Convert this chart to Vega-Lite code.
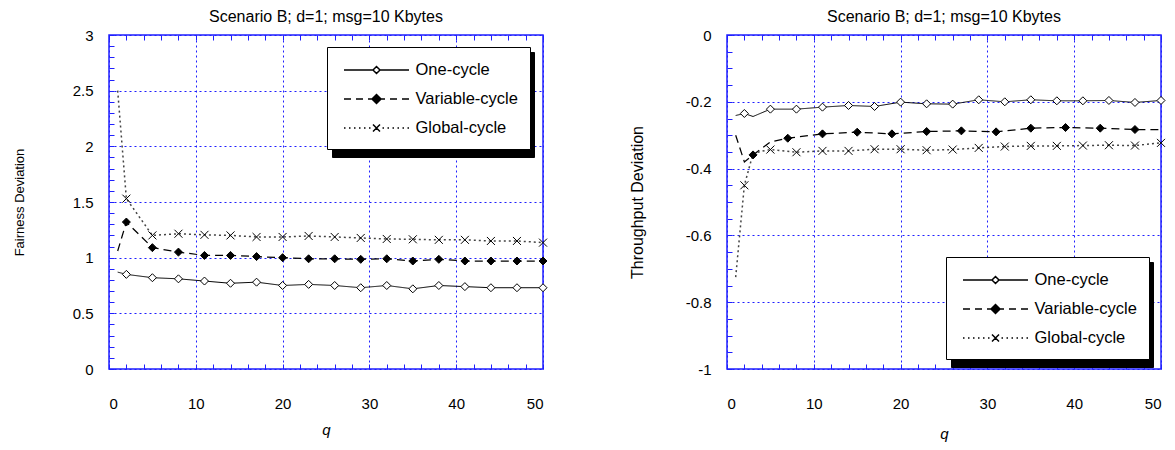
{
  "$schema": "https://vega.github.io/schema/vega-lite/v6.json",
  "background": "white",
  "padding": {"left": 12, "top": 8, "right": 5, "bottom": 5},
  "config": {
    "font": "Liberation Sans",
    "view": {"stroke": "#1f1fff", "strokeWidth": 1.5},
    "axis": {"labelFont": "Liberation Sans", "titleFont": "Liberation Sans", "labelColor": "black", "titleColor": "black", "titleFontWeight": "normal"},
    "title": {"font": "Liberation Sans", "fontWeight": "normal", "fontSize": 16, "color": "black"},
    "legend": {"labelFont": "Liberation Sans"}
  },
  "datasets": {
    "fair": [
      {"q": 1, "v": 0.87, "s": "One-cycle"}, {"q": 2, "v": 0.85, "s": "One-cycle"}, {"q": 5, "v": 0.82, "s": "One-cycle"}, {"q": 8, "v": 0.81, "s": "One-cycle"}, {"q": 11, "v": 0.79, "s": "One-cycle"}, {"q": 14, "v": 0.77, "s": "One-cycle"}, {"q": 17, "v": 0.78, "s": "One-cycle"}, {"q": 20, "v": 0.75, "s": "One-cycle"}, {"q": 23, "v": 0.76, "s": "One-cycle"}, {"q": 26, "v": 0.75, "s": "One-cycle"}, {"q": 29, "v": 0.73, "s": "One-cycle"}, {"q": 32, "v": 0.75, "s": "One-cycle"}, {"q": 35, "v": 0.72, "s": "One-cycle"}, {"q": 38, "v": 0.75, "s": "One-cycle"}, {"q": 41, "v": 0.74, "s": "One-cycle"}, {"q": 44, "v": 0.73, "s": "One-cycle"}, {"q": 47, "v": 0.73, "s": "One-cycle"}, {"q": 50, "v": 0.73, "s": "One-cycle"},
      {"q": 1, "v": 1.06, "s": "Variable-cycle"}, {"q": 2, "v": 1.32, "s": "Variable-cycle"}, {"q": 5, "v": 1.09, "s": "Variable-cycle"}, {"q": 8, "v": 1.05, "s": "Variable-cycle"}, {"q": 11, "v": 1.02, "s": "Variable-cycle"}, {"q": 14, "v": 1.02, "s": "Variable-cycle"}, {"q": 17, "v": 1.01, "s": "Variable-cycle"}, {"q": 20, "v": 1.0, "s": "Variable-cycle"}, {"q": 23, "v": 0.99, "s": "Variable-cycle"}, {"q": 26, "v": 0.99, "s": "Variable-cycle"}, {"q": 29, "v": 0.985, "s": "Variable-cycle"}, {"q": 32, "v": 0.99, "s": "Variable-cycle"}, {"q": 35, "v": 0.97, "s": "Variable-cycle"}, {"q": 38, "v": 0.985, "s": "Variable-cycle"}, {"q": 41, "v": 0.97, "s": "Variable-cycle"}, {"q": 44, "v": 0.97, "s": "Variable-cycle"}, {"q": 47, "v": 0.97, "s": "Variable-cycle"}, {"q": 50, "v": 0.97, "s": "Variable-cycle"},
      {"q": 1, "v": 2.5, "s": "Global-cycle"}, {"q": 2, "v": 1.53, "s": "Global-cycle"}, {"q": 5, "v": 1.2, "s": "Global-cycle"}, {"q": 8, "v": 1.215, "s": "Global-cycle"}, {"q": 11, "v": 1.205, "s": "Global-cycle"}, {"q": 14, "v": 1.2, "s": "Global-cycle"}, {"q": 17, "v": 1.186, "s": "Global-cycle"}, {"q": 20, "v": 1.186, "s": "Global-cycle"}, {"q": 23, "v": 1.195, "s": "Global-cycle"}, {"q": 26, "v": 1.186, "s": "Global-cycle"}, {"q": 29, "v": 1.177, "s": "Global-cycle"}, {"q": 32, "v": 1.168, "s": "Global-cycle"}, {"q": 35, "v": 1.165, "s": "Global-cycle"}, {"q": 38, "v": 1.16, "s": "Global-cycle"}, {"q": 41, "v": 1.16, "s": "Global-cycle"}, {"q": 44, "v": 1.15, "s": "Global-cycle"}, {"q": 47, "v": 1.15, "s": "Global-cycle"}, {"q": 50, "v": 1.135, "s": "Global-cycle"}
    ],
    "thr": [
      {"q": 1, "v": -0.241, "s": "One-cycle"}, {"q": 2, "v": -0.235, "s": "One-cycle"}, {"q": 3, "v": -0.244, "s": "One-cycle"}, {"q": 5, "v": -0.222, "s": "One-cycle"}, {"q": 8, "v": -0.222, "s": "One-cycle"}, {"q": 11, "v": -0.216, "s": "One-cycle"}, {"q": 14, "v": -0.211, "s": "One-cycle"}, {"q": 17, "v": -0.214, "s": "One-cycle"}, {"q": 20, "v": -0.201, "s": "One-cycle"}, {"q": 23, "v": -0.206, "s": "One-cycle"}, {"q": 26, "v": -0.207, "s": "One-cycle"}, {"q": 29, "v": -0.194, "s": "One-cycle"}, {"q": 32, "v": -0.2, "s": "One-cycle"}, {"q": 35, "v": -0.194, "s": "One-cycle"}, {"q": 38, "v": -0.197, "s": "One-cycle"}, {"q": 41, "v": -0.197, "s": "One-cycle"}, {"q": 44, "v": -0.196, "s": "One-cycle"}, {"q": 47, "v": -0.202, "s": "One-cycle"}, {"q": 50, "v": -0.196, "s": "One-cycle"},
      {"q": 1, "v": -0.3, "s": "Variable-cycle"}, {"q": 2, "v": -0.38, "s": "Variable-cycle"}, {"q": 3, "v": -0.359, "s": "Variable-cycle"}, {"q": 5, "v": -0.32, "s": "Variable-cycle"}, {"q": 7, "v": -0.309, "s": "Variable-cycle"}, {"q": 11, "v": -0.296, "s": "Variable-cycle"}, {"q": 15, "v": -0.291, "s": "Variable-cycle"}, {"q": 19, "v": -0.296, "s": "Variable-cycle"}, {"q": 23, "v": -0.289, "s": "Variable-cycle"}, {"q": 27, "v": -0.287, "s": "Variable-cycle"}, {"q": 31, "v": -0.29, "s": "Variable-cycle"}, {"q": 35, "v": -0.279, "s": "Variable-cycle"}, {"q": 39, "v": -0.277, "s": "Variable-cycle"}, {"q": 43, "v": -0.279, "s": "Variable-cycle"}, {"q": 47, "v": -0.283, "s": "Variable-cycle"}, {"q": 50, "v": -0.283, "s": "Variable-cycle"},
      {"q": 1, "v": -0.725, "s": "Global-cycle"}, {"q": 2, "v": -0.45, "s": "Global-cycle"}, {"q": 3, "v": -0.355, "s": "Global-cycle"}, {"q": 4, "v": -0.348, "s": "Global-cycle"}, {"q": 5, "v": -0.343, "s": "Global-cycle"}, {"q": 8, "v": -0.351, "s": "Global-cycle"}, {"q": 11, "v": -0.347, "s": "Global-cycle"}, {"q": 14, "v": -0.347, "s": "Global-cycle"}, {"q": 17, "v": -0.342, "s": "Global-cycle"}, {"q": 20, "v": -0.342, "s": "Global-cycle"}, {"q": 23, "v": -0.345, "s": "Global-cycle"}, {"q": 26, "v": -0.343, "s": "Global-cycle"}, {"q": 29, "v": -0.338, "s": "Global-cycle"}, {"q": 32, "v": -0.334, "s": "Global-cycle"}, {"q": 35, "v": -0.332, "s": "Global-cycle"}, {"q": 38, "v": -0.332, "s": "Global-cycle"}, {"q": 41, "v": -0.331, "s": "Global-cycle"}, {"q": 44, "v": -0.33, "s": "Global-cycle"}, {"q": 47, "v": -0.331, "s": "Global-cycle"}, {"q": 50, "v": -0.323, "s": "Global-cycle"}
    ]
  },
  "spacing": 78,
  "resolve": {
    "scale": {"x": "independent", "y": "independent", "shape": "independent", "fill": "independent", "color": "independent", "stroke": "independent", "strokeDash": "independent", "strokeWidth": "independent"},
    "legend": {"shape": "independent", "fill": "independent", "color": "independent"}
  },
  "hconcat": [
    {
      "width": 434, "height": 334,
      "title": {"text": "Scenario B; d=1; msg=10 Kbytes", "offset": 3},
      "data": {"name": "fair"},
      "layer": [
        {
          "mark": {"type": "line", "interpolate": "linear"},
          "encoding": {
            "x": {"field": "q", "type": "quantitative", "scale": {"domain": [0, 50], "nice": false},
              "axis": {"values": [0, 10, 20, 30, 40, 50], "grid": true, "gridColor": "#1f1fff", "gridDash": [2, 3], "gridWidth": 1, "ticks": false, "domain": false, "labelPadding": 27, "labelFontSize": 15, "title": "q", "titleFontStyle": "italic", "titleFontSize": 15, "titlePadding": 11}},
            "y": {"field": "v", "type": "quantitative", "scale": {"domain": [0, 3], "nice": false},
              "axis": {"values": [0, 0.5, 1, 1.5, 2, 2.5, 3], "labelExpr": "toString(round(datum.value*10)/10)", "grid": true, "gridColor": "#1f1fff", "gridDash": [2, 3], "gridWidth": 1, "ticks": false, "domain": false, "labelPadding": 16, "labelFontSize": 15, "title": "Fairness Deviation", "titleFontSize": 13, "titlePadding": 46}},
            "strokeDash": {"field": "s", "type": "nominal", "scale": {"domain": ["One-cycle", "Variable-cycle", "Global-cycle"], "range": [[1, 0], [8, 5], [2, 3]]}, "legend": null},
            "strokeWidth": {"field": "s", "type": "nominal", "scale": {"domain": ["One-cycle", "Variable-cycle", "Global-cycle"], "range": [1, 1.5, 1]}, "legend": null},
            "stroke": {"field": "s", "type": "nominal", "scale": {"domain": ["One-cycle", "Variable-cycle", "Global-cycle"], "range": ["black", "black", "#444444"]}, "legend": null}
          }
        },
        {
          "transform": [{"filter": "(datum.q-2)%3==0"}],
          "mark": {"type": "point", "stroke": "black", "strokeWidth": 1, "size": 64, "opacity": 1},
          "encoding": {
            "x": {"field": "q", "type": "quantitative", "scale": {"domain": [0, 50], "nice": false},
              "axis": {"orient": "bottom", "values": [0,2,4,6,8,10,12,14,16,18,20,22,24,26,28,30,32,34,36,38,40,42,44,46,48,50], "labels": false, "grid": false, "domain": false, "ticks": true, "tickSize": -5, "tickColor": "#1f1fff", "title": null}},
            "y": {"field": "v", "type": "quantitative", "scale": {"domain": [0, 3], "nice": false},
              "axis": {"orient": "left", "values": [0,0.1,0.2,0.3,0.4,0.5,0.6,0.7,0.8,0.9,1,1.1,1.2,1.3,1.4,1.5,1.6,1.7,1.8,1.9,2,2.1,2.2,2.3,2.4,2.5,2.6,2.7,2.8,2.9,3], "labels": false, "grid": false, "domain": false, "ticks": true, "tickSize": -5, "tickColor": "#1f1fff", "title": null}},
            "shape": {"field": "s", "type": "nominal", "scale": {"domain": ["One-cycle", "Variable-cycle", "Global-cycle"], "range": ["diamond", "diamond", "M-1,-1L1,1M-1,1L1,-1"]}, "legend": null},
            "fill": {"field": "s", "type": "nominal", "scale": {"domain": ["One-cycle", "Variable-cycle", "Global-cycle"], "range": ["white", "black", "transparent"]}, "legend": null}
          }
        },
        {
          "data": {"values": []},
          "mark": {"type": "point", "opacity": 1},
          "encoding": {
            "x": {"field": "q", "type": "quantitative", "scale": {"domain": [0, 50], "nice": false},
              "axis": {"orient": "top", "values": [0,2,4,6,8,10,12,14,16,18,20,22,24,26,28,30,32,34,36,38,40,42,44,46,48,50], "labels": false, "grid": false, "domain": false, "ticks": true, "tickSize": -5, "tickColor": "#1f1fff", "title": null}}
          }
        },
        {
          "data": {"values": []},
          "mark": {"type": "point", "opacity": 1},
          "encoding": {
            "color": {"field": "s", "type": "nominal", "scale": {"domain": ["Global-cycle", "One-cycle", "Variable-cycle"], "range": ["black", "black", "black"]},
              "legend": {"orient": "none", "legendX": 223, "legendY": 17, "title": null, "padding": 12, "strokeColor": "black", "fillColor": "black", "labelFontSize": 16.5, "labelExpr": "''", "symbolSize": 400, "symbolType": "M-3.25,-0.63H13.7V0.63H-3.25Z", "symbolOffset": 26.5, "labelOffset": 28, "rowPadding": 9,
                "encode": {"legend": {"update": {"strokeWidth": {"value": 2.5}}}, "symbols": {"update": {"stroke": {"value": "black"}, "fill": {"value": "black"}, "strokeWidth": {"value": 1}}}}}}
          }
        },
        {
          "data": {"values": []},
          "mark": {"type": "point", "opacity": 1, "stroke": "black"},
          "encoding": {
            "shape": {"field": "s", "type": "nominal", "scale": {"domain": ["One-cycle", "Variable-cycle", "Global-cycle"], "range": [
              "M-3.25,0H-0.35M0.35,0H3.25M-0.35,0L0,-0.35L0.35,0L0,0.35Z",
              "M-3.25,0H-2.55M-2.05,0H-1.35M-0.85,0H-0.45M0.45,0H0.85M1.35,0H2.05M2.55,0H3.25M-0.45,0L0,-0.45L0.45,0L0,0.45Z",
              "M-3.25,0h0.15M-2.75,0h0.15M-2.25,0h0.15M-1.75,0h0.15M-1.25,0h0.15M-0.75,0h0.15M0.6,0h0.15M1.1,0h0.15M1.6,0h0.15M2.1,0h0.15M2.6,0h0.15M3.1,0h0.15M-0.35,-0.35L0.35,0.35M-0.35,0.35L0.35,-0.35"]},
              "legend": {"orient": "none", "legendX": 218, "legendY": 12, "title": null, "padding": 12, "strokeColor": "black", "fillColor": "white", "labelFontSize": 16.5, "labelColor": "black", "symbolSize": 400, "symbolOffset": 26.5, "labelOffset": 28, "rowPadding": 9,
                "encode": {"legend": {"update": {"strokeWidth": {"value": 2.5}}}, "symbols": {"update": {"stroke": {"value": "black"}, "strokeWidth": {"value": 1.3}, "opacity": {"value": 1}}}}}},
            "fill": {"field": "s", "type": "nominal", "scale": {"domain": ["One-cycle", "Variable-cycle", "Global-cycle"], "range": ["white", "black", "white"]}}
          }
        }
      ],
      "resolve": {"scale": {"shape": "independent", "fill": "independent"}, "axis": {"x": "independent", "y": "independent"}}
    },
    {
      "width": 434, "height": 334,
      "title": {"text": "Scenario B; d=1; msg=10 Kbytes", "offset": 3},
      "data": {"name": "thr"},
      "layer": [
        {
          "mark": {"type": "line", "interpolate": "linear"},
          "encoding": {
            "x": {"field": "q", "type": "quantitative", "scale": {"domain": [0, 50], "nice": false},
              "axis": {"values": [0, 10, 20, 30, 40, 50], "grid": true, "gridColor": "#1f1fff", "gridDash": [2, 3], "gridWidth": 1, "ticks": false, "domain": false, "labelPadding": 27, "labelFontSize": 15, "title": "q", "titleFontStyle": "italic", "titleFontSize": 15, "titlePadding": 15}},
            "y": {"field": "v", "type": "quantitative", "scale": {"domain": [-1, 0], "nice": false},
              "axis": {"values": [-1, -0.8, -0.6, -0.4, -0.2, 0], "labelExpr": "toString(round(datum.value*10)/10)", "grid": true, "gridColor": "#1f1fff", "gridDash": [2, 3], "gridWidth": 1, "ticks": false, "domain": false, "labelPadding": 16, "labelFontSize": 15, "title": "Throughput Deviation", "titleFontSize": 16, "titlePadding": 40}},
            "strokeDash": {"field": "s", "type": "nominal", "scale": {"domain": ["One-cycle", "Variable-cycle", "Global-cycle"], "range": [[1, 0], [8, 5], [2, 3]]}, "legend": null},
            "strokeWidth": {"field": "s", "type": "nominal", "scale": {"domain": ["One-cycle", "Variable-cycle", "Global-cycle"], "range": [1, 1.5, 1]}, "legend": null},
            "stroke": {"field": "s", "type": "nominal", "scale": {"domain": ["One-cycle", "Variable-cycle", "Global-cycle"], "range": ["black", "black", "#444444"]}, "legend": null}
          }
        },
        {
          "transform": [{"filter": "datum.s=='Variable-cycle' ? ((datum.q-3)%4==0 && datum.q<=47) : ((datum.q-2)%3==0)"}],
          "mark": {"type": "point", "stroke": "black", "strokeWidth": 1, "size": 64, "opacity": 1},
          "encoding": {
            "x": {"field": "q", "type": "quantitative", "scale": {"domain": [0, 50], "nice": false},
              "axis": {"orient": "bottom", "values": [0,2,4,6,8,10,12,14,16,18,20,22,24,26,28,30,32,34,36,38,40,42,44,46,48,50], "labels": false, "grid": false, "domain": false, "ticks": true, "tickSize": -5, "tickColor": "#1f1fff", "title": null}},
            "y": {"field": "v", "type": "quantitative", "scale": {"domain": [-1, 0], "nice": false},
              "axis": {"orient": "left", "values": [-1,-0.95,-0.9,-0.85,-0.8,-0.75,-0.7,-0.65,-0.6,-0.55,-0.5,-0.45,-0.4,-0.35,-0.3,-0.25,-0.2,-0.15,-0.1,-0.05,0], "labels": false, "grid": false, "domain": false, "ticks": true, "tickSize": -5, "tickColor": "#1f1fff", "title": null}},
            "shape": {"field": "s", "type": "nominal", "scale": {"domain": ["One-cycle", "Variable-cycle", "Global-cycle"], "range": ["diamond", "diamond", "M-1,-1L1,1M-1,1L1,-1"]}, "legend": null},
            "fill": {"field": "s", "type": "nominal", "scale": {"domain": ["One-cycle", "Variable-cycle", "Global-cycle"], "range": ["white", "black", "transparent"]}, "legend": null}
          }
        },
        {
          "data": {"values": []},
          "mark": {"type": "point", "opacity": 1},
          "encoding": {
            "x": {"field": "q", "type": "quantitative", "scale": {"domain": [0, 50], "nice": false},
              "axis": {"orient": "top", "values": [0,2,4,6,8,10,12,14,16,18,20,22,24,26,28,30,32,34,36,38,40,42,44,46,48,50], "labels": false, "grid": false, "domain": false, "ticks": true, "tickSize": -5, "tickColor": "#1f1fff", "title": null}}
          }
        },
        {
          "data": {"values": []},
          "mark": {"type": "point", "opacity": 1},
          "encoding": {
            "color": {"field": "s", "type": "nominal", "scale": {"domain": ["Global-cycle", "One-cycle", "Variable-cycle"], "range": ["black", "black", "black"]},
              "legend": {"orient": "none", "legendX": 224, "legendY": 227, "title": null, "padding": 12, "strokeColor": "black", "fillColor": "black", "labelFontSize": 16.5, "labelExpr": "''", "symbolSize": 400, "symbolType": "M-3.25,-0.63H13.7V0.63H-3.25Z", "symbolOffset": 26.5, "labelOffset": 28, "rowPadding": 9,
                "encode": {"legend": {"update": {"strokeWidth": {"value": 2.5}}}, "symbols": {"update": {"stroke": {"value": "black"}, "fill": {"value": "black"}, "strokeWidth": {"value": 1}}}}}}
          }
        },
        {
          "data": {"values": []},
          "mark": {"type": "point", "opacity": 1, "stroke": "black"},
          "encoding": {
            "shape": {"field": "s", "type": "nominal", "scale": {"domain": ["One-cycle", "Variable-cycle", "Global-cycle"], "range": [
              "M-3.25,0H-0.35M0.35,0H3.25M-0.35,0L0,-0.35L0.35,0L0,0.35Z",
              "M-3.25,0H-2.55M-2.05,0H-1.35M-0.85,0H-0.45M0.45,0H0.85M1.35,0H2.05M2.55,0H3.25M-0.45,0L0,-0.45L0.45,0L0,0.45Z",
              "M-3.25,0h0.15M-2.75,0h0.15M-2.25,0h0.15M-1.75,0h0.15M-1.25,0h0.15M-0.75,0h0.15M0.6,0h0.15M1.1,0h0.15M1.6,0h0.15M2.1,0h0.15M2.6,0h0.15M3.1,0h0.15M-0.35,-0.35L0.35,0.35M-0.35,0.35L0.35,-0.35"]},
              "legend": {"orient": "none", "legendX": 219, "legendY": 222, "title": null, "padding": 12, "strokeColor": "black", "fillColor": "white", "labelFontSize": 16.5, "labelColor": "black", "symbolSize": 400, "symbolOffset": 26.5, "labelOffset": 28, "rowPadding": 9,
                "encode": {"legend": {"update": {"strokeWidth": {"value": 2.5}}}, "symbols": {"update": {"stroke": {"value": "black"}, "strokeWidth": {"value": 1.3}, "opacity": {"value": 1}}}}}},
            "fill": {"field": "s", "type": "nominal", "scale": {"domain": ["One-cycle", "Variable-cycle", "Global-cycle"], "range": ["white", "black", "white"]}}
          }
        }
      ],
      "resolve": {"scale": {"shape": "independent", "fill": "independent"}, "axis": {"x": "independent", "y": "independent"}}
    }
  ]
}
